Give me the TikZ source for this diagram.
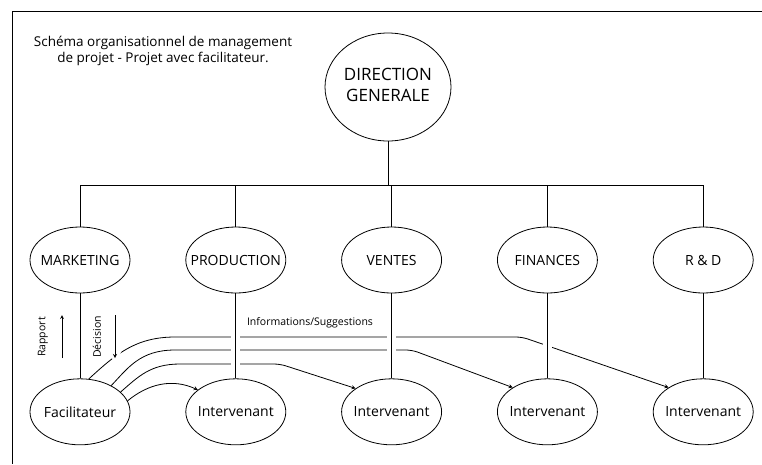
\documentclass[tikz,border=0pt]{standalone}
\usepackage{fontspec}
\setmainfont{Open Sans}
\usetikzlibrary{shapes.geometric, arrows, positioning}
\tikzstyle{unit} = [ellipse, minimum width=100pt, minimum height=66pt, inner sep=0pt, draw=black, font=\fontsize{14}{16}\selectfont]
\tikzstyle{arrow} = [->,>=stealth]
\tikzstyle{cross} = [preaction={draw=white, line width=9pt, shorten <=4pt, shorten >=4pt}]
\tikzstyle{small} = [font=\fontsize{10.5}{12}\selectfont]
\newcommand{\slim}[1]{\makebox[0pt]{#1}}

\begin{document}
\begin{tikzpicture}[x=1pt, y=-1pt, line width=0.8pt, node distance=55pt]
            \useasboundingbox (0,0) rectangle (762,464);
            \draw (762,11) -- (12,11) -- (12,464);
            \node[align=center, font=\fontsize{13.5}{16}\selectfont] (title) at (163,51) {Schéma organisationnel de management\\de projet - Projet avec facilitateur.};

            \node[unit, minimum width=126pt, minimum height=108pt, font=\fontsize{17}{21}\selectfont] (dg) at (388,87) {\slim{\begin{tabular}{@{}c@{}}DIRECTION\\GENERALE\end{tabular}}};
            \node[unit] (mkt) at (80,260) {\slim{MARKETING}};
            \node[unit, right=of mkt] (prod) {\slim{PRODUCTION}};
            \node[unit, right=of prod] (ventes) {\slim{VENTES}};
            \node[unit, right=of ventes] (fin) {\slim{FINANCES}};
            \node[unit, right=of fin] (rd) {\slim{R \& D}};
            \node[unit, below=85pt of mkt] (fac) {\slim{Facilitateur}};
            \node[unit, below=85pt of prod] (int1) {\slim{Intervenant}};
            \node[unit, below=85pt of ventes] (int2) {\slim{Intervenant}};
            \node[unit, below=85pt of fin] (int3) {\slim{Intervenant}};
            \node[unit, below=85pt of rd] (int4) {\slim{Intervenant}};

            % hierarchy
            \coordinate (bus) at (0,185);
            \draw (dg.south) -- (dg.south |- bus);
            \draw (mkt.north) -- (mkt.north |- bus) -- (rd.north |- bus) -- (rd.north);
            \foreach \n in {prod, ventes, fin}
                \draw (\n.north) -- (\n.north |- bus);

            % informations / suggestions
            \node[small] (info) at (310,323) {Informations/Suggestions};
            \draw[arrow] (fac.75) .. controls (115,355) and (135,337) .. (175,337) [rounded corners=6pt] -- (522,337) -- (int4.145);
            \draw[arrow] (fac.40) .. controls (128,368) and (140,350) .. (175,350) [rounded corners=6pt] -- (412,350) -- (int3.145);
            \draw[arrow] (fac.26) .. controls (138,377) and (150,364) .. (180,364) [rounded corners=6pt] -- (280,364) -- (int2.147);
            \draw[arrow] (fac.13) .. controls (148,384) and (172,378) .. (int1.150);

            \foreach \a/\b in {mkt/fac, prod/int1, ventes/int2, fin/int3, rd/int4}
                \draw[cross] (\a.south) -- (\b.north);

            % rapport / decision
            \node[small, rotate=90] (rapport) at (43,337) {Rapport};
            \node[small, rotate=90] (decision) at (97,337) {Décision};
            \coordinate (rapB) at (62,358);
            \coordinate (rapT) at (62,315);
            \coordinate (decT) at (115,315);
            \coordinate (decB) at (115,358);
            \draw[arrow] (rapB) -- (rapT);
            \draw[arrow, preaction={draw=white, line width=9pt, shorten >=-6pt}] (decT) -- (decB);
\end{tikzpicture}
\end{document}
